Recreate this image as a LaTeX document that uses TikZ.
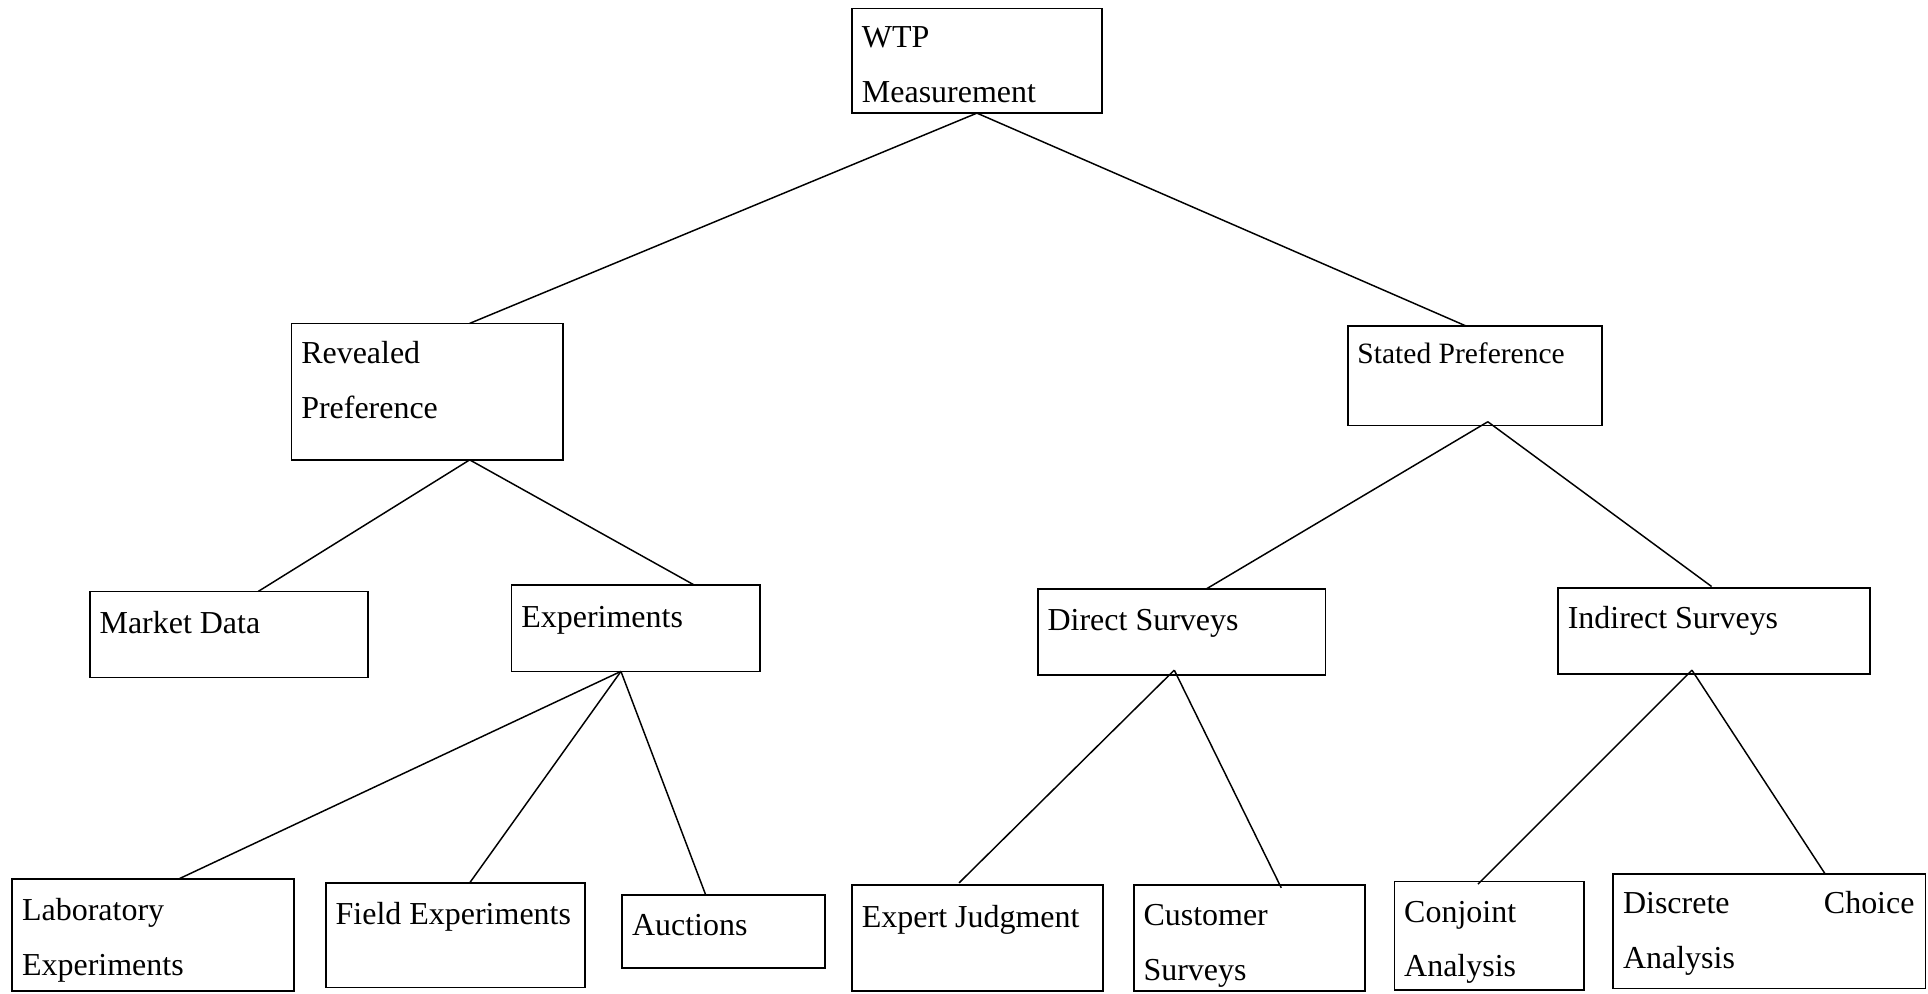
\documentclass[tikz,border=0pt]{standalone}
\usepackage{fontspec}
\setmainfont{Liberation Serif}
\begin{document}
\begin{tikzpicture}[x=1pt,y=1pt,
  box/.style={draw, line width=1.4pt, rectangle, inner sep=0pt, outer sep=0pt},
  txt/.style={anchor=base west, inner sep=0pt, outer sep=0pt, align=left, font=\fontsize{26}{44.5}\selectfont},
  txts/.style={txt, font=\fontsize{24}{44}\selectfont},
  link/.style={line width=1.2pt}]
\useasboundingbox (0,0) rectangle (1568,-808);
% boxes
\node[box, minimum width=203, minimum height=85] (wtp) at (794.5,-49.5) {};
\node[box, minimum width=221, minimum height=111] (rev) at (347.5,-318.5) {};
\node[box, minimum width=207, minimum height=81] (sta) at (1199.5,-305.5) {};
\node[box, minimum width=226, minimum height=70] (mkt) at (186,-516) {};
\node[box, minimum width=202, minimum height=70] (exp) at (517,-511) {};
\node[box, minimum width=234, minimum height=70] (dir) at (961,-514) {};
\node[box, minimum width=254, minimum height=70] (ind) at (1394,-513) {};
\node[box, minimum width=229, minimum height=91] (lab) at (124.5,-760.5) {};
\node[box, minimum width=211, minimum height=85] (fld) at (370.5,-760.5) {};
\node[box, minimum width=165, minimum height=59] (auc) at (588.5,-757.5) {};
\node[box, minimum width=204, minimum height=86] (epj) at (795,-763) {};
\node[box, minimum width=188, minimum height=86] (cus) at (1016,-763) {};
\node[box, minimum width=154, minimum height=88] (cjt) at (1211,-761) {};
\node[box, minimum width=254, minimum height=93] (dca) at (1439,-757.5) {};
% texts
\node[txt, text width=185] (twtp) at (701,-39) {WTP\\Measurement};
\node[txt, text width=200] (trev) at (245,-296) {Revealed\\Preference};
\node[txts] (tsta) at (1104,-296) {Stated Preference};
\node[txt] (tmkt) at (81,-515) {Market Data};
\node[txt] (texp) at (424,-510) {Experiments};
\node[txt] (tdir) at (852,-513) {Direct Surveys};
\node[txt] (tind) at (1275,-511) {Indirect Surveys};
\node[txt, text width=210] (tlab) at (18,-749) {Laboratory\\Experiments};
\node[txt] (tfld) at (273,-752) {Field Experiments};
\node[txt] (tauc) at (514,-761) {Auctions};
\node[txt] (tepj) at (701,-754) {Expert Judgment};
\node[txt, text width=170] (tcus) at (930,-753) {Customer\\Surveys};
\node[txt, text width=140] (tcjt) at (1142,-750) {Conjoint\\Analysis};
\node[txt, text width=237] (tdca) at (1320,-743) {Discrete\hfill Choice\\Analysis};
% connectors
\draw[link] (wtp.south) -- ([xshift=34.5]rev.north);
\draw[link] (wtp.south) -- ([xshift=-7.5]sta.north);
\draw[link] ([xshift=10.5,yshift=3]sta.south) -- ([xshift=20]dir.north);
\draw[link] ([xshift=10.5,yshift=3]sta.south) -- ([xshift=-2,yshift=1]ind.north);
\draw[link] ([xshift=34.5]rev.south) -- ([xshift=24]mkt.north);
\draw[link] ([xshift=34.5]rev.south) -- ([xshift=48]exp.north);
\draw[link] ([xshift=-12]exp.south) -- ([xshift=20.5]lab.north);
\draw[link] ([xshift=-12]exp.south) -- ([xshift=11.5]fld.north);
\draw[link] ([xshift=-12]exp.south) -- ([xshift=-14.5]auc.north);
\draw[link] ([xshift=-6,yshift=4]dir.south) -- ([xshift=-15,yshift=2]epj.north);
\draw[link] ([xshift=-6,yshift=4]dir.south) -- ([xshift=26,yshift=-2]cus.north);
\draw[link] ([xshift=-18,yshift=3]ind.south) -- ([xshift=-9,yshift=-2]cjt.north);
\draw[link] ([xshift=-18,yshift=3]ind.south) -- ([xshift=45.5]dca.north);
\end{tikzpicture}
\end{document}
